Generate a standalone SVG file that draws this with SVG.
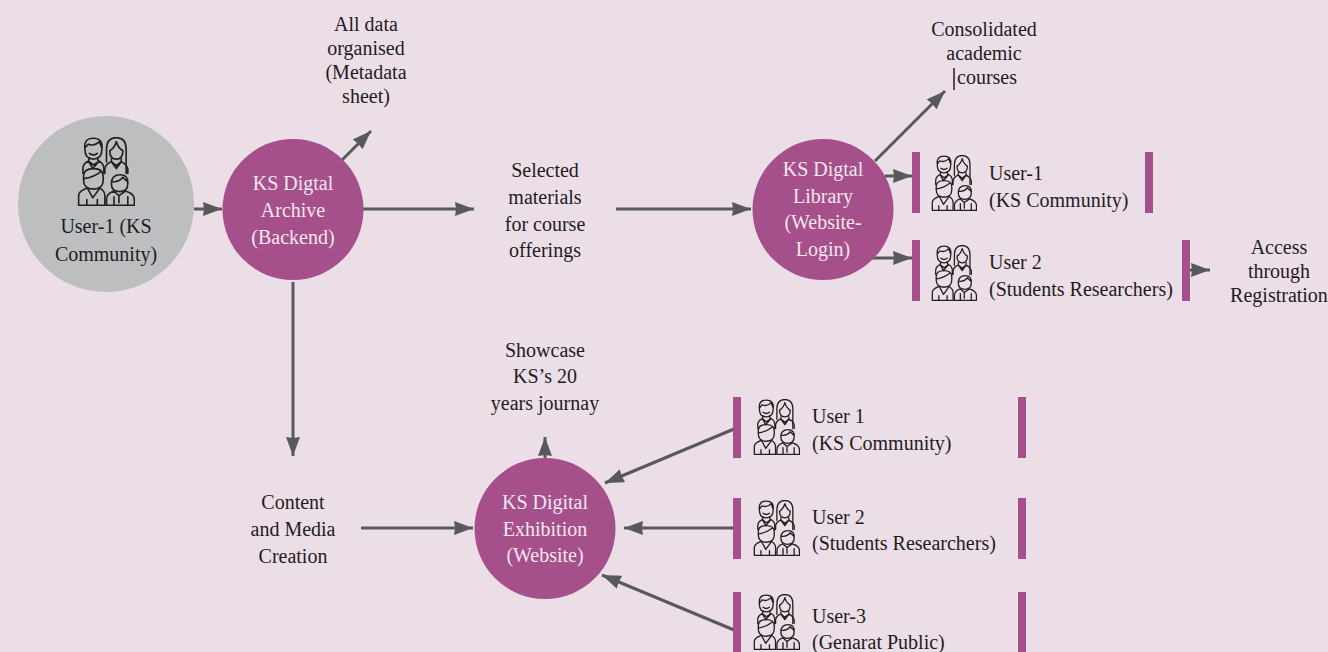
<svg xmlns="http://www.w3.org/2000/svg" width="1328" height="652" viewBox="0 0 1328 652">
<style>
text{font-family:"Liberation Serif","Times New Roman",serif;font-size:20px;fill:#1e1c1e;text-anchor:middle;transform:translateY(.5px)}
.w{fill:#f4e6ee}
.l{text-anchor:start}
.c{stroke:#58595b;stroke-width:3;fill:none;marker-end:url(#a)}
.b{fill:#a5508a}
.i{fill:none;stroke:#231f20;stroke-width:5;stroke-linecap:round;stroke-linejoin:round}
</style>
<defs>
<marker id="a" markerUnits="userSpaceOnUse" markerWidth="20" markerHeight="14" refX="19" refY="7" orient="auto"><path d="M0 0L19 7L0 14L1 7Z" fill="#58595b"/></marker>
<symbol id="p" viewBox="50 48 177 212" preserveAspectRatio="none">
<g class="i">
<path d="M74 85Q70 52 100 52Q130 52 126 85Q126 116 100 116Q74 116 74 85ZM74 82L84 70Q105 78 118 62L126 82M88 98Q100 108 112 98"/>
<path d="M68 160V145Q68 130 85 122L100 134L118 122Q132 130 132 145V160M85 122L88 112M115 122L112 112M85 122L98 145L118 122"/>
<path d="M140 125V85Q140 50 170 50Q200 50 200 85V160M150 90Q165 82 170 62Q175 82 190 90Q190 116 170 116Q150 116 150 90"/>
<path d="M135 160V145Q138 130 155 124L170 136L185 124Q200 130 205 145V160M155 124L170 145L185 124M155 124V116M185 124V116"/>
<path d="M70 168Q70 145 100 145Q130 145 130 168V180Q130 208 100 208Q70 208 70 180ZM72 176Q100 172 122 155"/>
<path d="M55 258V228Q55 214 82 205L98 235L120 205Q135 214 135 228V258ZM80 258V240M112 258V240"/>
<path d="M155 192Q155 164 182 164Q207 164 205 192Q205 216 180 216Q155 216 155 192ZM157 185Q178 188 190 172Q198 180 204 185"/>
<path d="M140 258V240Q140 222 162 214L178 228L198 214Q225 222 225 240V258ZM178 228V250M163 258V232M205 258V232"/>
</g>
</symbol>
</defs>
<rect width="1328" height="652" fill="#ecdee7"/>
<g id="connectors">
<line class="c" x1="194" y1="209" x2="222" y2="209"/>
<line class="c" x1="342" y1="160" x2="371" y2="131"/>
<line class="c" x1="363" y1="209" x2="474" y2="209"/>
<line class="c" x1="616" y1="209" x2="751" y2="209"/>
<line class="c" x1="875" y1="161" x2="945" y2="91"/>
<line class="c" x1="885" y1="176" x2="912" y2="176"/>
<line class="c" x1="872" y1="258" x2="912" y2="258"/>
<line class="c" x1="1190" y1="270" x2="1210" y2="270"/>
<line class="c" x1="293" y1="282" x2="293" y2="456"/>
<line class="c" x1="361" y1="528" x2="473" y2="528"/>
<line class="c" x1="545" y1="458" x2="545" y2="437"/>
<line class="c" x1="734" y1="429" x2="605" y2="483"/>
<line class="c" x1="734" y1="528" x2="624" y2="528"/>
<line class="c" x1="734" y1="630" x2="602" y2="575"/>
</g>
<g id="user1-circle"><circle cx="106" cy="204" r="88" fill="#bcbec0"/><use href="#p" x="77" y="137" width="58" height="69"/><text x="106" y="232">User-1 (KS</text><text x="106" y="260">Community)</text></g>
<g id="archive"><circle class="b" cx="293" cy="209.500" r="70.500"/><text class="w" x="293" y="189">KS Digtal</text><text class="w" x="293" y="216">Archive</text><text class="w" x="293" y="243">(Backend)</text></g>
<g id="library"><circle class="b" cx="823" cy="209.500" r="70.500"/><text class="w" x="823" y="175">KS Digtal</text><text class="w" x="823" y="202">Library</text><text class="w" x="823" y="228">(Website-</text><text class="w" x="823" y="255">Login)</text></g>
<g id="exhibition"><circle class="b" cx="545" cy="528.500" r="70.500"/><text class="w" x="545" y="508">KS Digital</text><text class="w" x="545" y="535">Exhibition</text><text class="w" x="545" y="561">(Website)</text></g>
<g id="metadata"><text x="366" y="30">All data</text><text x="366" y="54">organised</text><text x="366" y="78">(Metadata</text><text x="366" y="102">sheet)</text></g>
<g id="selected"><text x="545" y="176">Selected</text><text x="545" y="203">materials</text><text x="545" y="230">for course</text><text x="545" y="256">offerings</text></g>
<g id="courses"><text x="984" y="35">Consolidated</text><text x="984" y="59">academic</text><text x="987" y="83">courses</text><line x1="954" y1="68" x2="954" y2="90" stroke="#1e1c1e" stroke-width="1.500"/></g>
<g id="showcase"><text x="545" y="356">Showcase</text><text x="545" y="382">KS’s 20</text><text x="545" y="409">years journay</text></g>
<g id="content"><text x="293" y="508">Content</text><text x="293" y="535">and Media</text><text x="293" y="562">Creation</text></g>
<g id="access"><text x="1279" y="253">Access</text><text x="1279" y="277">through</text><text x="1279" y="301">Registration</text></g>
<g id="lib-user1"><rect class="b" x="912" y="152" width="8" height="61"/><rect class="b" x="1145" y="152" width="8" height="61"/><use href="#p" x="931" y="155" width="46" height="56"/><text class="l" x="989" y="179">User-1</text><text class="l" x="989" y="206">(KS Community)</text></g>
<g id="lib-user2"><rect class="b" x="912" y="240" width="8" height="61"/><rect class="b" x="1182" y="240" width="8" height="61"/><use href="#p" x="931" y="245" width="46" height="56"/><text class="l" x="989" y="268">User 2</text><text class="l" x="989" y="295">(Students Researchers)</text></g>
<g id="exh-user1"><rect class="b" x="733" y="397" width="8" height="61"/><rect class="b" x="1018" y="397" width="8" height="61"/><use href="#p" x="753" y="399" width="47" height="56"/><text class="l" x="812" y="422">User 1</text><text class="l" x="812" y="449">(KS Community)</text></g>
<g id="exh-user2"><rect class="b" x="733" y="498" width="8" height="61"/><rect class="b" x="1018" y="498" width="8" height="61"/><use href="#p" x="753" y="500" width="47" height="56"/><text class="l" x="812" y="523">User 2</text><text class="l" x="812" y="549">(Students Researchers)</text></g>
<g id="exh-user3"><rect class="b" x="733" y="592" width="8" height="60"/><rect class="b" x="1018" y="592" width="8" height="60"/><use href="#p" x="753" y="594" width="47" height="56"/><text class="l" x="812" y="622">User-3</text><text class="l" x="812" y="648">(Genarat Public)</text></g>
</svg>
